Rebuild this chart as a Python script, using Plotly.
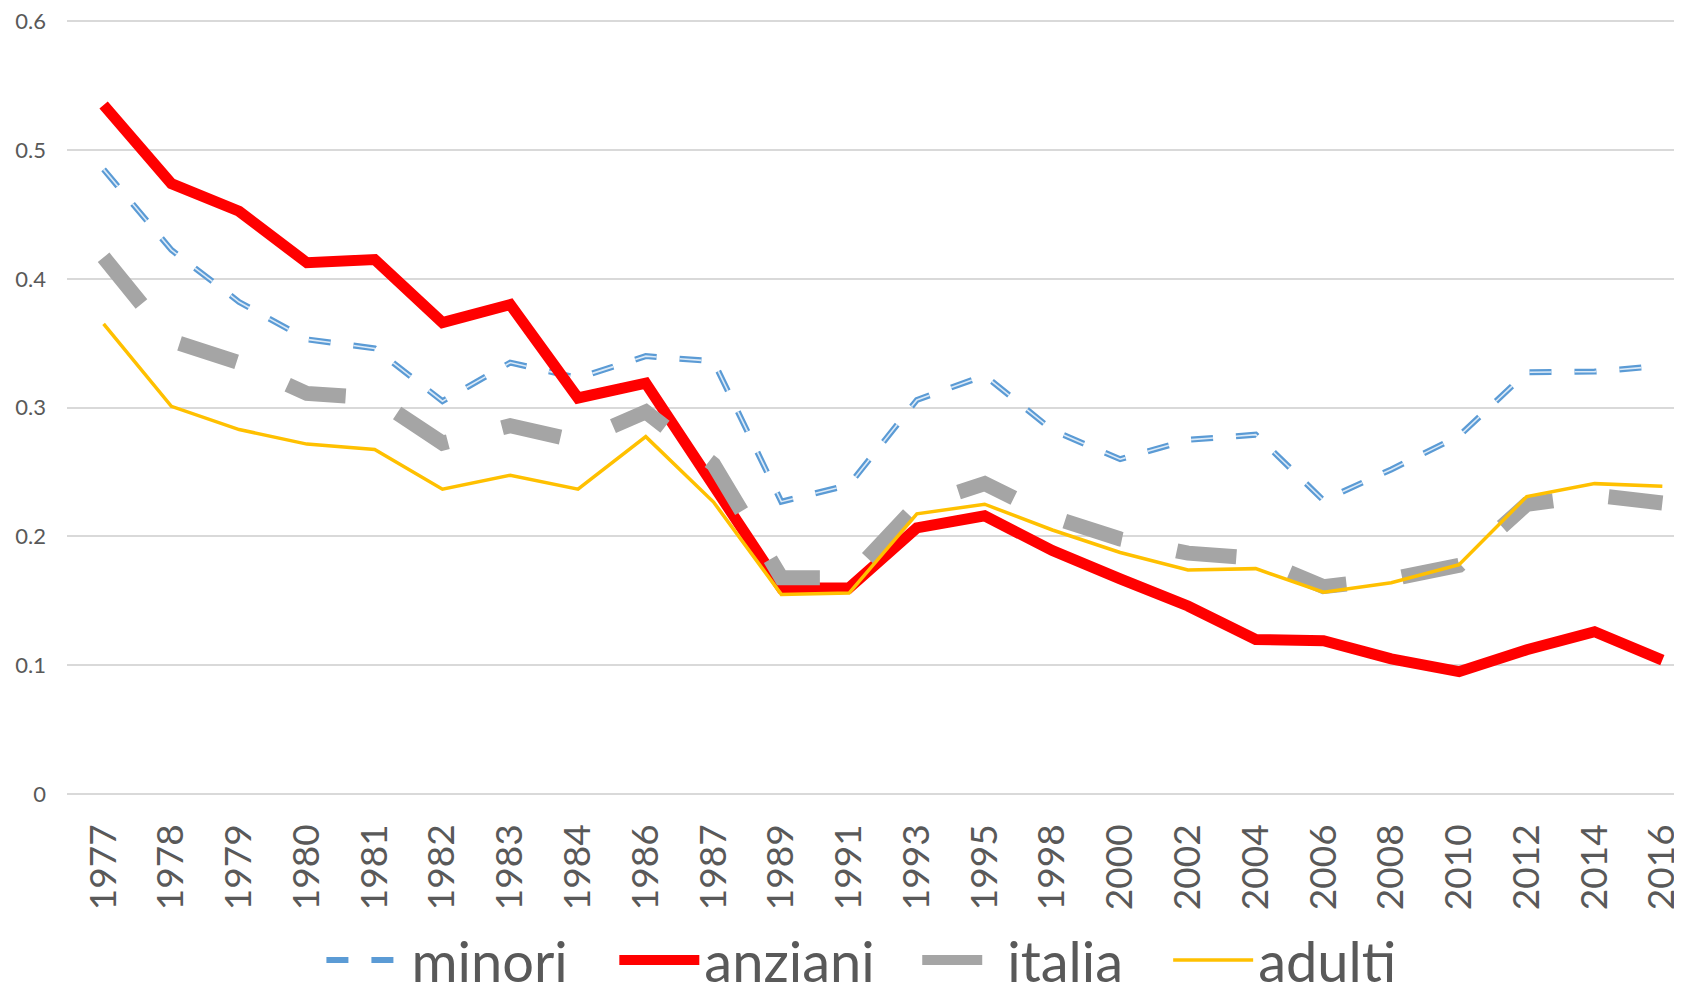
import plotly.graph_objects as go

years = ["1977", "1978", "1979", "1980", "1981", "1982", "1983", "1984", "1986", "1987",
         "1989", "1991", "1993", "1995", "1998", "2000", "2002", "2004", "2006", "2008",
         "2010", "2012", "2014", "2016"]

minori = [0.485, 0.4225, 0.382, 0.353, 0.346, 0.305, 0.335, 0.323, 0.340, 0.336,
          0.227, 0.240, 0.306, 0.325, 0.2825, 0.260, 0.275, 0.279, 0.228, 0.252,
          0.278, 0.3275, 0.328, 0.3325]

anziani = [0.535, 0.474, 0.4525, 0.4125, 0.415, 0.366, 0.380, 0.3075, 0.319, 0.238,
           0.160, 0.160, 0.2067, 0.216, 0.189, 0.167, 0.146, 0.120, 0.119, 0.105,
           0.095, 0.112, 0.126, 0.104]

italia = [0.4167, 0.352, 0.335, 0.311, 0.3075, 0.2725, 0.286, 0.274, 0.2967, 0.256,
          0.168, 0.168, 0.224, 0.241, 0.215, 0.198, 0.187, 0.183, 0.161, 0.167,
          0.1775, 0.225, 0.232, 0.226]

adulti = [0.365, 0.301, 0.283, 0.2717, 0.2675, 0.2367, 0.2475, 0.2367, 0.2775, 0.2267,
          0.155, 0.156, 0.2175, 0.225, 0.205, 0.1875, 0.174, 0.175, 0.1567, 0.164,
          0.178, 0.231, 0.241, 0.239]

y_ticks = [0, 0.1, 0.2, 0.3, 0.4, 0.5, 0.6]
y_ticklabels = ["0", "0.1", "0.2", "0.3", "0.4", "0.5", "0.6"]

FONT = "Lato"
TXT = "#595959"
GRID = "#D9D9D9"

fig = go.Figure()

fig.add_trace(go.Scatter(x=years, y=minori, name="minori", mode="lines", legend="legend",
                         line=dict(color="#5B9BD5", width=6, dash="22px,23px")))
fig.add_trace(go.Scatter(x=years, y=minori, name="minori", mode="lines", showlegend=False,
                         hoverinfo="skip",
                         line=dict(color="#DCEAF7", width=1.6, dash="22px,23px")))
fig.add_trace(go.Scatter(x=years, y=anziani, name="anziani", mode="lines", legend="legend2",
                         line=dict(color="#FF0000", width=11)))
fig.add_trace(go.Scatter(x=years, y=italia, name="italia", mode="lines", legend="legend3",
                         line=dict(color="#A5A5A5", width=15, dash="60px,56px")))
fig.add_trace(go.Scatter(x=years, y=adulti, name="adulti", mode="lines", legend="legend4",
                         line=dict(color="#FFC000", width=3.5)))

# page body has an 8px margin: figure coordinates = window coordinates - 8
OFF = 8
W, H = 1682 - OFF, 996 - OFF
YMAX = 0.601
plot_left_w, plot_bottom_w, y06_w = 66.5, 794.0, 21.5
L = plot_left_w - OFF
B = H - (plot_bottom_w - OFF)
ppu = (plot_bottom_w - y06_w) / 0.6
T = (y06_w - OFF) - (YMAX - 0.6) * ppu
R = 0
pw = W - L - R
ph = H - T - B


def wx(px):
    """window x pixel -> paper x"""
    return (px - OFF - L) / pw


def wy(py):
    """window y pixel -> paper y"""
    return (H - B - (py - OFF)) / ph


leg_common = dict(orientation="h", yanchor="middle", xanchor="left",
                  font=dict(family=FONT, size=56, color=TXT), itemwidth=80,
                  bgcolor="rgba(0,0,0,0)")
legend_left_w = [321, 614, 917, 1168]
legend_y = wy(960)

fig.update_layout(
    width=W, height=H,
    margin=dict(l=L, r=R, t=T, b=B, autoexpand=False),
    paper_bgcolor="white", plot_bgcolor="white",
    font=dict(family=FONT, color=TXT),
    showlegend=True,
    legend=dict(x=wx(legend_left_w[0]), y=legend_y, **leg_common),
    legend2=dict(x=wx(legend_left_w[1]), y=legend_y, **leg_common),
    legend3=dict(x=wx(legend_left_w[2]), y=legend_y, **leg_common),
    legend4=dict(x=wx(legend_left_w[3]), y=legend_y, **leg_common),
)

fig.update_xaxes(type="category", categoryorder="array", categoryarray=years,
                 range=[-0.54, 23.29], tickangle=-90, showgrid=False, showline=False,
                 ticks="", tickfont=dict(family=FONT, size=37, color=TXT),
                 ticklabelstandoff=22)
fig.update_yaxes(range=[0, YMAX], tickvals=y_ticks, ticktext=y_ticklabels,
                 showgrid=True, gridcolor=GRID, gridwidth=1.5, zeroline=True,
                 zerolinecolor=GRID, zerolinewidth=1.5, showline=False, ticks="",
                 tickfont=dict(family=FONT, size=22, color=TXT), ticklabelstandoff=20,
                 ticklabeloverflow="allow")

fig.write_html("out.html")
